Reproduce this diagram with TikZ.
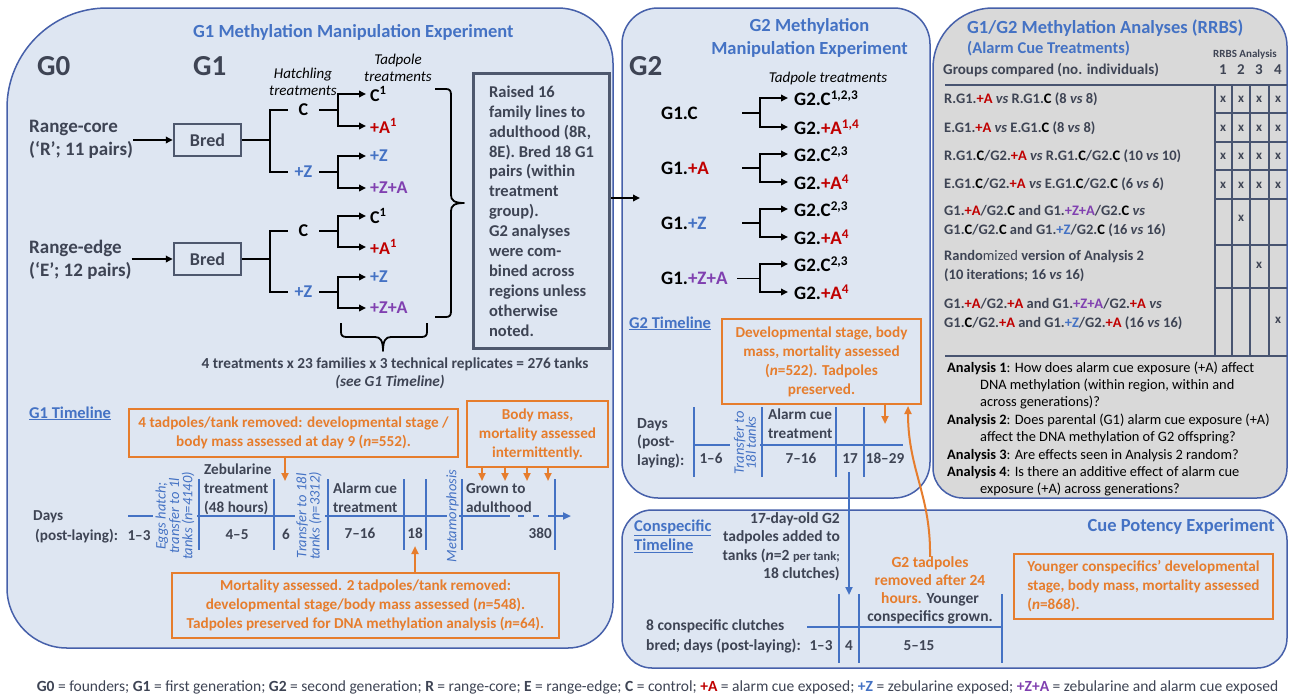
\documentclass[tikz,border=0pt]{standalone}
\usepackage{fontspec}
\setmainfont{Carlito}
\usetikzlibrary{arrows.meta,calc}
\definecolor{pfill}{RGB}{222,230,242}
\definecolor{pborder}{RGB}{70,96,170}
\definecolor{tblue}{RGB}{68,114,196}
\definecolor{tred}{RGB}{192,0,0}
\definecolor{tpurple}{RGB}{128,64,176}
\definecolor{torange}{RGB}{230,125,45}
\definecolor{tdark}{RGB}{62,68,84}
\definecolor{gfill}{RGB}{217,217,217}
\definecolor{bcol}{RGB}{78,88,110}
\definecolor{gridc}{RGB}{72,84,112}
\newcommand{\fTitle}{\fontsize{18.5}{23}\selectfont\bfseries}
\newcommand{\fBig}{\fontsize{29}{32}\selectfont\bfseries}
\newcommand{\fMain}{\fontsize{18}{23}\selectfont\bfseries}
\newcommand{\fIt}{\fontsize{15}{17}\selectfont\itshape}
\newcommand{\fBox}{\fontsize{16.5}{19.9}\selectfont\bfseries}
\newcommand{\fTl}{\fontsize{15.2}{19}\selectfont\bfseries}
\newcommand{\fSm}{\fontsize{14.5}{19.5}\selectfont\bfseries}
\newcommand{\fRot}{\fontsize{14.5}{12}\selectfont\itshape}
\newcommand{\fAn}{\fontsize{14.4}{17.3}\selectfont}
\newcommand{\fFoot}{\fontsize{15.5}{17}\selectfont}
\newcommand{\myA}{\textcolor{tred}{+A}}
\newcommand{\myZ}{\textcolor{tblue}{+Z}}
\newcommand{\myZA}{\textcolor{tpurple}{+Z+A}}
\newcommand{\myC}{\textcolor{black}{C}}
\tikzset{
  panel/.style={draw=pborder, line width=1.5pt, fill=pfill},
  t/.style={inner sep=0pt},
  ln/.style={line width=1.8pt, black},
  arr/.style={ln, -{Triangle[length=7pt,width=6.5pt]}},
  tl/.style={line width=2pt, tblue},
  barr/.style={tl, -{Triangle[length=8pt,width=7pt]}},
  oarr/.style={line width=2pt, torange, -{Triangle[length=8pt,width=7pt]}},
  obox/.style={draw=torange, line width=2pt, inner sep=0pt, font=\fTl, text=torange, align=center, anchor=north west},
  bred/.style={draw=bcol, line width=2.5pt, minimum width=67pt, minimum height=32pt, font=\fMain, text=tdark, inner sep=0pt},
  mid/.style={t, font=\fMain, minimum width=31pt, text=black},
  leaf/.style={t, font=\fMain, anchor=west, inner xsep=4pt},
  gl/.style={t, font=\fontsize{19}{23}\selectfont\bfseries, anchor=west, text width=81pt, align=left},
  gleaf/.style={t, font=\fontsize{19}{23}\selectfont\bfseries, anchor=west, inner xsep=6pt},
  dk/.style={t, font=\fTl, text=tdark},
  grid/.style={line width=1.8pt, gridc},
  xm/.style={t, font=\fontsize{13}{15}\selectfont\bfseries, text=tdark},
  row/.style={t, font=\fSm, text=tdark, anchor=base west, align=left},
}
\begin{document}
\begin{tikzpicture}[x=1pt,y=-1pt]
\useasboundingbox (0,0) rectangle (1290,697);
\fill[white] (0,0) rectangle (1290,697);

% ---------- panels ----------
\path[panel] (7,108) .. controls (7,52.8) and (51.8,8) .. (107,8) -- (558,8) .. controls (588.4,8) and (613,32.6) .. (613,63) -- (613,603) .. controls (613,627.8) and (592.8,648) .. (568,648) -- (67,648) .. controls (33.9,648) and (7,621.1) .. (7,588) -- cycle;
\path[panel, rounded corners=36pt] (622,8) rectangle (930,498);
\path[panel, fill=gfill] (933,68) .. controls (933,34.9) and (959.9,8) .. (993,8) -- (1249,8) .. controls (1270,8) and (1287,25) .. (1287,46) -- (1287,468) .. controls (1287,484.6) and (1273.6,498) .. (1257,498) -- (963,498) .. controls (946.4,498) and (933,484.6) .. (933,468) -- cycle;
\path[panel, rounded corners=30pt] (622,510) rectangle (1287,668);

% ---------- G1 panel ----------
\node[t, font=\fTitle, text=tblue, anchor=base west] (g1title) at (193,37) {G1 Methylation Manipulation Experiment};
\node[t, font=\fBig, text=tdark, anchor=base west] (g0) at (37,75) {G0};
\node[t, font=\fBig, text=tdark, anchor=base west] (g1) at (193,75) {G1};
\node[t, font=\fIt, anchor=base, align=center] (hatch) at (303,95) {Hatchling\\treatments};
\node[t, font=\fIt, anchor=base, align=center] (tadp) at (398,81) {Tadpole\\treatments};

\node[t, font=\fontsize{19}{23}\selectfont\bfseries, text=tdark, anchor=base west, align=left] (rc) at (29,155) {Range-core\\(‘R’; 11 pairs)};
\node[t, font=\fontsize{19}{23}\selectfont\bfseries, text=tdark, anchor=base west, align=left] (re) at (29,276) {Range-edge\\(‘E’; 12 pairs)};
\node[bred] (bred1) at (207.5,140) {Bred};
\node[bred] (bred2) at (207.5,259) {Bred};
\draw[arr] (rc.east |- bred1.west) -- (bred1.west);
\draw[arr] (re.east |- bred2.west) -- (bred2.west);

% range-core tree
\coordinate (j1) at (270,140);
\node[mid] (c1) at (303.5,110) {C};
\node[mid, text=tblue] (z1) at (303.5,172) {+Z};
\draw[ln] (bred1.east) -- (j1);
\draw[ln] (c1.west) -| (j1) |- (z1.west);
\node[leaf] (l1a) at (366,94) {C\textsuperscript{1}};
\node[leaf, text=tred] (l1b) at (366,126) {+A\textsuperscript{1}};
\node[leaf, text=tblue] (l1c) at (366,156) {+Z};
\node[leaf, text=tpurple] (l1d) at (366,188) {+Z+A};
\coordinate (fx1) at (338,110);
\coordinate (fx2) at (338,172);
\draw[ln] (c1.east) -- (fx1);
\draw[arr] (fx1) |- (l1a.west);
\draw[arr] (fx1) |- (l1b.west);
\draw[ln] (z1.east) -- (fx2);
\draw[arr] (fx2) |- (l1c.west);
\draw[arr] (fx2) |- (l1d.west);

% range-edge tree
\coordinate (j2) at (270,259);
\node[mid] (c2) at (303.5,231) {C};
\node[mid, text=tblue] (z2) at (303.5,292) {+Z};
\draw[ln] (bred2.east) -- (j2);
\draw[ln] (c2.west) -| (j2) |- (z2.west);
\node[leaf] (l2a) at (366,216) {C\textsuperscript{1}};
\node[leaf, text=tred] (l2b) at (366,247) {+A\textsuperscript{1}};
\node[leaf, text=tblue] (l2c) at (366,277) {+Z};
\node[leaf, text=tpurple] (l2d) at (366,308) {+Z+A};
\coordinate (fx3) at (338,231);
\coordinate (fx4) at (338,292);
\draw[ln] (c2.east) -- (fx3);
\draw[arr] (fx3) |- (l2a.west);
\draw[arr] (fx3) |- (l2b.west);
\draw[ln] (z2.east) -- (fx4);
\draw[arr] (fx4) |- (l2c.west);
\draw[arr] (fx4) |- (l2d.west);

% braces
\draw[ln, line join=round] (435,89) -- (446,89) .. controls (450,89) and (451,91) .. (451,95) -- (451,195) .. controls (451,200) and (454,203) .. (464,203) .. controls (454,203) and (451,206) .. (451,211) -- (451,311) .. controls (451,315) and (450,317) .. (446,317) -- (435,317);
\draw[ln, line join=round] (341,323) -- (341,332) .. controls (341,336) and (343,337) .. (347,337) -- (375,337) .. controls (380,337) and (383,340) .. (383,351) .. controls (383,340) and (386,337) .. (391,337) -- (421,337) .. controls (425,337) and (427,336) .. (427,332) -- (427,323);

\node[t, font=\fontsize{15.3}{19}\selectfont\bfseries, text=tdark, anchor=base] (four) at (395,368) {4 treatments x 23 families x 3 technical replicates = 276 tanks};
\node[t, font=\fontsize{15.3}{19}\selectfont\bfseries\itshape, text=tdark, anchor=base] (see) at (390,386) {(see G1 Timeline)};

\node[draw=bcol, line width=3pt, anchor=north west, minimum width=136pt, minimum height=275pt, inner xsep=0pt, align=left, font=\fBox, text=tdark] (raised) at (472,72) {Raised 16\\family lines to\\adulthood (8R,\\8E). Bred 18 G1\\pairs (within\\treatment\\group).\\G2 analyses\\were com-\\bined across\\regions unless\\otherwise\\noted.};
\coordinate (g2in) at (640,198);
\draw[arr] (raised.east |- g2in) -- (g2in);

% ---------- G1 timeline ----------
\node[t, font=\fontsize{16.5}{19}\selectfont\bfseries, text=tblue, anchor=base west] (g1tl) at (29,418) {\underline{G1 Timeline}};
\node[obox, minimum width=329pt, minimum height=48pt] (ob1) at (128,408) {4 tadpoles/tank removed: developmental stage /\\body mass assessed at day 9 (\textit{n}=552).};
\coordinate (a285) at (285,481);
\draw[oarr] (ob1.south -| a285) -- (a285);
\node[obox, minimum width=141pt, minimum height=66pt] (ob2) at (466,400) {Body mass,\\mortality assessed\\intermittently.};
\coordinate (b1) at (482,481);
\coordinate (b2) at (505,481);
\coordinate (b3) at (527,481);
\coordinate (b4) at (548,481);
\foreach \b in {b1,b2,b3,b4} \draw[oarr] (ob2.south -| \b) -- (\b);

% timeline lines
\draw[tl] (128,516) -- (153,516);
\draw[tl] (197,516) -- (295,516);
\draw[tl] (325,516) -- (447,516);
\draw[tl] (459,516) -- (510,516);
\draw[tl] (518,516) -- (524,516);
\draw[tl] (533,516) -- (539,516);
\draw[barr] (548,516) -- (571,516);
\foreach \x in {199,274,328,404,426,462,555} \draw[tl] (\x,479) -- (\x,550);

\node[dk, anchor=base west] (days1) at (33,520) {Days};
\node[dk, anchor=base west] (pl1) at (35,540) {(post-laying):};
\node[dk, anchor=base] (d13) at (139,540) {1–3};
\node[t, font=\fRot, text=tblue, rotate=90, align=center] (eggs) at (175,516) {Eggs hatch;\\transfer to 1l\\tanks (\textit{n}=4140)};
\node[dk, anchor=base west, align=left] (zeb) at (204,512) {Zebularine\\treatment\\(48 hours)};
\node[dk, anchor=base] (d45) at (237,539) {4–5};
\node[dk, anchor=base] (d6) at (286,539) {6};
\node[t, font=\fRot, text=tblue, rotate=90, align=center] (tr18) at (309,516) {Transfer to 18l\\tanks (\textit{n}=3312)};
\node[dk, anchor=base west, align=left] (alarm1) at (333,512) {Alarm cue\\treatment};
\node[dk, anchor=base] (d716) at (360,538) {7–16};
\node[dk, anchor=base] (d18) at (415,538) {18};
\node[t, font=\fontsize{14.5}{16}\selectfont\itshape, text=tblue, rotate=90] (meta) at (452.5,516) {Metamorphosis};
\node[dk, anchor=base west, align=left] (grown) at (466,512) {Grown to\\adulthood};
\node[dk, anchor=base east] (d380) at (552,538) {380};

\node[obox, minimum width=387pt, minimum height=65pt] (ob3) at (171,572) {Mortality assessed. 2 tadpoles/tank removed:\\developmental stage/body mass assessed (\textit{n}=548).\\Tadpoles preserved for DNA methylation analysis (\textit{n}=64).};
\coordinate (a18) at (415,546);
\draw[oarr] (ob3.north -| a18) -- (a18);

% ---------- G2 panel ----------
\node[t, font=\fTitle, text=tblue, anchor=base, align=center] (g2title) at (809.5,54) {G2 Methylation\\Manipulation Experiment};
\node[t, font=\fBig, text=tdark, anchor=base west] (g2big) at (629,75) {G2};
\node[t, font=\fIt, anchor=base] (tadp2) at (828,82) {Tadpole treatments};

\coordinate (kx) at (760,0);
\node[gl] (gc) at (661,113) {G1.C};
\node[gl] (ga) at (661,168) {G1.\myA};
\node[gl] (gz) at (661,223) {G1.\myZ};
\node[gl, text width=76pt] (gza) at (661,278.5) {G1.\myZA};
\node[gleaf] (o1) at (788,98) {G2.C\textsuperscript{1,2,3}};
\node[gleaf] (o2) at (788,127) {G2.\textcolor{tred}{+A\textsuperscript{1,4}}};
\node[gleaf] (o3) at (788,154) {G2.C\textsuperscript{2,3}};
\node[gleaf] (o4) at (788,182) {G2.\textcolor{tred}{+A\textsuperscript{4}}};
\node[gleaf] (o5) at (788,209) {G2.C\textsuperscript{2,3}};
\node[gleaf] (o6) at (788,237) {G2.\textcolor{tred}{+A\textsuperscript{4}}};
\node[gleaf] (o7) at (788,264) {G2.C\textsuperscript{2,3}};
\node[gleaf] (o8) at (788,292) {G2.\textcolor{tred}{+A\textsuperscript{4}}};
\foreach \g/\p/\q in {gc/o1/o2, ga/o3/o4, gz/o5/o6, gza/o7/o8} {
  \draw[ln] (\g.east) -- (\g.east -| kx);
  \draw[arr] (\g.east -| kx) |- (\p.west);
  \draw[arr] (\g.east -| kx) |- (\q.west);
}

% G2 timeline
\node[t, font=\fontsize{16.5}{19}\selectfont\bfseries, text=tblue, anchor=base west] (g2tl) at (629,328) {\underline{G2 Timeline}};
\node[obox, minimum width=199pt, minimum height=85pt] (ob4) at (721,318) {Developmental stage, body\\mass, mortality assessed\\(\textit{n}=522). Tadpoles\\preserved.};
\coordinate (a885) at (885,424);
\draw[oarr] (ob4.south -| a885) -- (a885);
\node[dk, anchor=base west, align=left, font=\fontsize{15.5}{18.5}\selectfont\bfseries] (days2) at (637,465) {Days\\(post-\\laying):};
\draw[tl] (694,445) -- (730,445);
\draw[tl] (760,445) -- (903,445);
\foreach \x in {694,762,836,864} \draw[tl] (\x,407) -- (\x,477);
\node[dk, anchor=base] (e16) at (711,463) {1–6};
\node[t, font=\fRot, text=tblue, rotate=90, align=center] (tr18b) at (745,443) {Transfer to\\18l tanks};
\node[dk, anchor=base west, align=left] (alarm2) at (768,438) {Alarm cue\\treatment};
\node[dk, anchor=base] (e716) at (801,463) {7–16};
\node[dk, anchor=base] (d17) at (850,463) {17};
\node[dk, anchor=base] (e1829) at (885,463) {18–29};
\coordinate (c17) at (849,595);
\draw[barr] ($(d17.south -| c17)+(0,9)$) -- (c17);

% ---------- Cue potency / conspecific panel ----------
\node[t, font=\fTitle, text=tblue, anchor=base east] (cuetitle) at (1275,531) {Cue Potency Experiment};
\node[t, font=\fontsize{16.5}{19.5}\selectfont\bfseries, text=tblue, anchor=base west, align=left] (constl) at (634,550.5) {\underline{Conspecific}\\\underline{Timeline}};
\node[dk, anchor=base east, align=right, font=\fontsize{15.5}{18.5}\selectfont\bfseries] (added) at (840,578.5) {17-day-old G2\\tadpoles added to\\tanks (\textit{n}=2 {\fontsize{12.5}{14}\selectfont per tank;}\\18 clutches)};
\node[dk, anchor=base west, align=left, font=\fontsize{15.5}{20}\selectfont\bfseries] (clutch) at (646,650) {8 conspecific clutches\\bred; days (post-laying):};
\draw[tl] (807,627) -- (1002,627);
\foreach \x in {839,859,1002} \draw[tl] (\x,594) -- (\x,663);
\node[dk, anchor=base] (f13) at (821,650) {1–3};
\node[dk, anchor=base] (f4) at (849,650) {4};
\node[dk, anchor=base] (f515) at (919,650) {5–15};
\node[dk, anchor=base, align=center, font=\fontsize{15.5}{17.7}\selectfont\bfseries] (g2rem) at (930,621) {\textcolor{torange}{G2 tadpoles}\\\textcolor{torange}{removed after 24}\\\textcolor{torange}{hours.} Younger\\conspecifics grown.};
\coordinate (oc) at (908,406);
\draw[oarr] (g2rem.north) .. controls (931,495) and (908,470) .. (oc);
\node[obox, minimum width=259pt, minimum height=65pt, align=left] (ob5) at (1013,553) {Younger conspecifics’ developmental\\stage, body mass, mortality assessed\\(\textit{n}=868).};

% ---------- RRBS panel ----------
\node[t, font=\fTitle, text=tblue, anchor=base west] (rrbstitle) at (967,33) {G1/G2 Methylation Analyses (RRBS)};
\node[t, font=\fontsize{16.5}{19}\selectfont\bfseries, text=tblue, anchor=base west] (alarmct) at (967,53) {(Alarm Cue Treatments)};
\node[t, font=\fontsize{11}{13}\selectfont\bfseries, text=tdark, anchor=base] (rrbsan) at (1245,57) {RRBS Analysis};
\node[t, font=\fontsize{15}{18}\selectfont\bfseries, text=tdark, anchor=base west] (groups) at (943,74) {Groups compared (no. individuals)};
\foreach \x/\n in {1223/1,1241/2,1259/3,1278/4} \node[t, font=\fontsize{15}{18}\selectfont\bfseries, text=tdark, anchor=base] (n\n) at (\x,74) {\n};
\draw[grid] (945,85) -- (1287,85);
\draw[grid] (945,356) -- (1287,356);
\foreach \x in {1215,1232,1250,1269} \draw[grid] (\x,85) -- (\x,356);
\foreach \y in {113,142,170,199,245,288} \draw[grid] (1215,\y) -- (1287,\y);

\node[row] (r1) at (944,103) {R.G1.\myA\ \textit{vs} R.G1.\myC\ (8 \textit{vs} 8)};
\node[row] (r2) at (944,132) {E.G1.\myA\ \textit{vs} E.G1.\myC\ (8 \textit{vs} 8)};
\node[row] (r3) at (944,160) {R.G1.\myC/G2.\myA\ \textit{vs} R.G1.\myC/G2.\myC\ (10 \textit{vs} 10)};
\node[row] (r4) at (944,188) {E.G1.\myC/G2.\myA\ \textit{vs} E.G1.\myC/G2.\myC\ (6 \textit{vs} 6)};
\node[row] (r5) at (944,234.5) {G1.\myA/G2.\myC\ and G1.\myZA/G2.\myC\ \textit{vs}\\G1.\myC/G2.\myC\ and G1.\myZ/G2.\myC\ (16 \textit{vs} 16)};
\node[row] (r6) at (944,279.5) {Rando{\mdseries mized} version of Analysis 2\\(10 iterations; 16 \textit{vs} 16)};
\node[row] (r7) at (944,327.5) {G1.\myA/G2.\myA\ and G1.\myZA/G2.\myA\ \textit{vs}\\G1.\myC/G2.\myA\ and G1.\myZ/G2.\myA\ (16 \textit{vs} 16)};
\foreach \y [count=\i] in {99,128,156,185} {
  \foreach \x [count=\j] in {1223,1241,1259,1278} \node[xm] (x\i\j) at (\x,\y) {x};
}
\node[xm] (x52) at (1241,218) {x};
\node[xm] (x63) at (1259,265) {x};
\node[xm] (x74) at (1278,320) {x};

\node[t, font=\fAn, anchor=base west, align=left] (an1) at (947,406.6) {\textbf{Analysis 1}: How does alarm cue exposure (+A) affect\\\hspace*{33pt}DNA methylation (within region, within and\\\hspace*{33pt}across generations)?};
\node[t, font=\fAn, anchor=base west, align=left] (an2) at (947,441.3) {\textbf{Analysis 2}: Does parental (G1) alarm cue exposure (+A)\\\hspace*{33pt}affect the DNA methylation of G2 offspring?};
\node[t, font=\fAn, anchor=base west, align=left] (an3) at (947,459) {\textbf{Analysis 3}: Are effects seen in Analysis 2 random?};
\node[t, font=\fAn, anchor=base west, align=left] (an4) at (947,493.3) {\textbf{Analysis 4}: Is there an additive effect of alarm cue\\\hspace*{33pt}exposure (+A) across generations?};

% ---------- footer ----------
\node[t, font=\fFoot, text=tdark, anchor=base] (foot) at (657.5,691) {\textbf{G0} = founders; \textbf{G1} = first generation; \textbf{G2} = second generation; \textbf{R} = range-core; \textbf{E} = range-edge; \textbf{C} = control; \textbf{\textcolor{tred}{+A}} = alarm cue exposed; \textbf{\textcolor{tblue}{+Z}} = zebularine exposed; \textbf{\textcolor{tpurple}{+Z+A}} = zebularine and alarm cue exposed};
\end{tikzpicture}
\end{document}
